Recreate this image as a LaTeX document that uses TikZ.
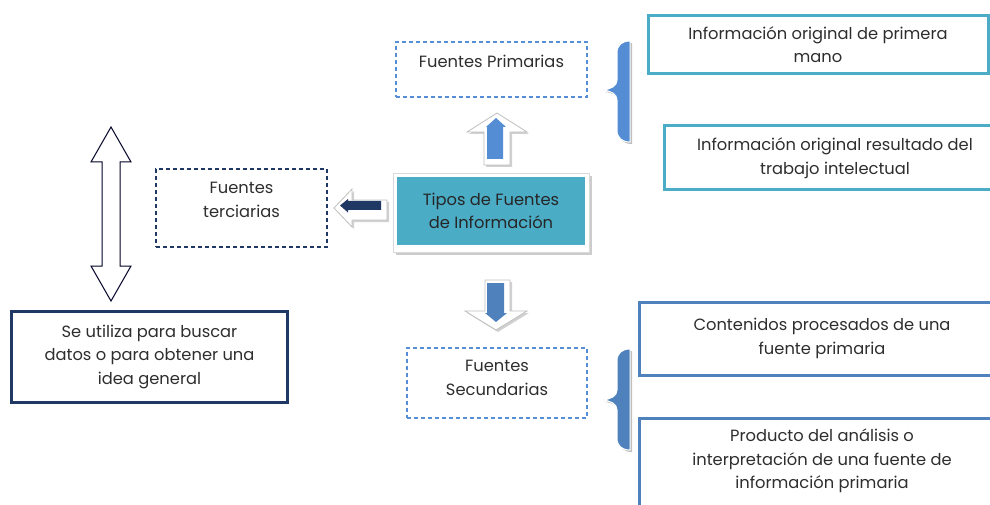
\documentclass[tikz,border=0pt]{standalone}
\usepackage{fontspec}
\setmainfont{Poppins}
\definecolor{teal1}{HTML}{4BACC6}
\definecolor{blue1}{HTML}{4F81BD}
\definecolor{blue2}{HTML}{548DD4}
\definecolor{dashblue}{HTML}{558ED5}
\definecolor{navy}{HTML}{1F3864}
\definecolor{txt}{HTML}{2E2E2E}
\tikzset{
  base/.style={align=center, text=txt, font=\fontsize{16.3}{23.5}\selectfont, inner sep=2pt},
  dashbox/.style={base, draw=dashblue, dash pattern=on 4pt off 3pt, line width=1.1pt},
  navydash/.style={base, draw=navy, dash pattern=on 4pt off 3pt, line width=1.3pt},
  tealbox/.style={base, draw=teal1, line width=3pt, fill=white},
  bluebox/.style={base, draw=blue1, line width=3pt, fill=white},
  navybox/.style={base, draw=navy, line width=3pt, fill=white},
  shadowfill/.style={fill=black!18},
  outerarrow/.style={fill=white, draw=black!25, line width=0.8pt},
}
\begin{document}
\begin{tikzpicture}[x=1pt,y=-1pt]
\useasboundingbox (0,0) rectangle (990,505);
\clip (0,0) rectangle (990,505);
% boxes
\node[dashbox, minimum width=191pt, minimum height=55pt] (prim) at (491.5,69.5) {};
\node[base] (primt) at (491.5,61) {Fuentes Primarias};
\node[navydash, minimum width=171pt, minimum height=78pt] (terc) at (241.5,208) {};
\node[base] (terct) at (241.5,200) {Fuentes\\terciarias};
\node[dashbox, minimum width=180pt, minimum height=70pt] (sec) at (497,383) {};
\node[base] (sect) at (497,378) {Fuentes\\Secundarias};
\node[navybox, minimum width=276pt, minimum height=91pt] (usa) at (149.5,356.5) {Se utiliza para buscar\\datos o para obtener una\\idea general};
% central box with frame
\fill[black!20] (396,176) rectangle (592,255);
\filldraw[fill=white, draw=black!15] (393,173) rectangle (589,252);
\node[base, fill=teal1, minimum width=188pt, minimum height=68pt, text=black!85] (tipos) at (491,211) {Tipos de Fuentes\\de Información};
% right boxes
\node[tealbox, minimum width=340pt, minimum height=58pt] (p1) at (818,44.5) {Información original de primera\\mano};
\node[tealbox, minimum width=342pt, minimum height=64pt] (p2) at (835,158) {Información original resultado del\\trabajo intelectual};
\node[bluebox, minimum width=366pt, minimum height=73pt] (s1) at (822,338.5) {Contenidos procesados de una\\fuente primaria};
\node[bluebox, minimum width=366pt, minimum height=104pt] (s2) at (822,470) {};
\node[base, anchor=north] (s2t) at (822,427) {Producto del análisis o\\interpretación de una fuente de\\información primaria};
% up arrow
\coordinate (ua) at (497,165);
\begin{scope}[shift={(ua)}]
\fill[shadowfill] (2,-50) -- (32,-31) -- (15,-31) -- (15,2) -- (-11,2) -- (-11,-31) -- (-28,-31) -- cycle;
\path[outerarrow] (0,-52) -- (30,-33) -- (13,-33) -- (13,0) -- (-13,0) -- (-13,-33) -- (-30,-33) -- cycle;
\fill[blue2] (-1,-47) -- (9,-38) -- (6,-38) -- (6,-6) -- (-10,-6) -- (-10,-38) -- (-11,-38) -- cycle;
\end{scope}
% down arrow
\coordinate (da) at (497,280);
\begin{scope}[shift={(da)}]
\fill[shadowfill] (-10,2) -- (15,2) -- (15,33) -- (32,33) -- (1,52) -- (-30,33) -- (-10,33) -- cycle;
\path[outerarrow] (-12,0) -- (13,0) -- (13,31) -- (30,31) -- (-1,50) -- (-32,31) -- (-12,31) -- cycle;
\fill[blue1] (-10,3) -- (7,3) -- (7,33) -- (10,33) -- (-1,42) -- (-12,33) -- (-10,33) -- cycle;
\end{scope}
% left arrow
\coordinate (la) at (334,208);
\begin{scope}[shift={(la)}]
\fill[shadowfill] (2,2) -- (20,-17) -- (20,-6) -- (55,-6) -- (55,14) -- (20,14) -- (20,21) -- cycle;
\path[outerarrow] (0,0) -- (18,-19) -- (18,-8) -- (53,-8) -- (53,12) -- (18,12) -- (18,19) -- cycle;
\fill[navy] (6,-2.5) -- (14,-9) -- (14,-7) -- (47,-7) -- (47,2) -- (14,2) -- (14,4.5) -- cycle;
\end{scope}
% double arrow
\coordinate (dbl) at (111,127);
\draw[fill=white, draw=black!75!blue!60!black, line width=1pt, shift={(dbl)}]
  (0,0) -- (20,35) -- (9,35) -- (9,139) -- (20,139) -- (0,174) -- (-20,139) -- (-9,139) -- (-9,35) -- (-20,35) -- cycle;
% braces
\newcommand{\bracepath}[3]{% top y, mid y, bottom y
  (630,#1) -- (630,#3) .. controls (622,#3) and (617,#3-4) .. (617,#3-12)
  -- (617,#2+10) .. controls (617,#2+4) and (611,#2+1) .. (603,#2)
  .. controls (611,#2-1) and (617,#2-4) .. (617,#2-10)
  -- (617,#1+12) .. controls (617,#1+4) and (622,#1) .. (630,#1) -- cycle}
\fill[black!25, shift={(2,2)}] \bracepath{41}{90}{142};
\filldraw[fill=blue2, draw=white, line width=1pt] \bracepath{41}{90}{142};
\fill[black!25, shift={(2,2)}] \bracepath{349}{400}{450};
\filldraw[fill=blue1, draw=white, line width=1pt] \bracepath{349}{400}{450};
\end{tikzpicture}
\end{document}
